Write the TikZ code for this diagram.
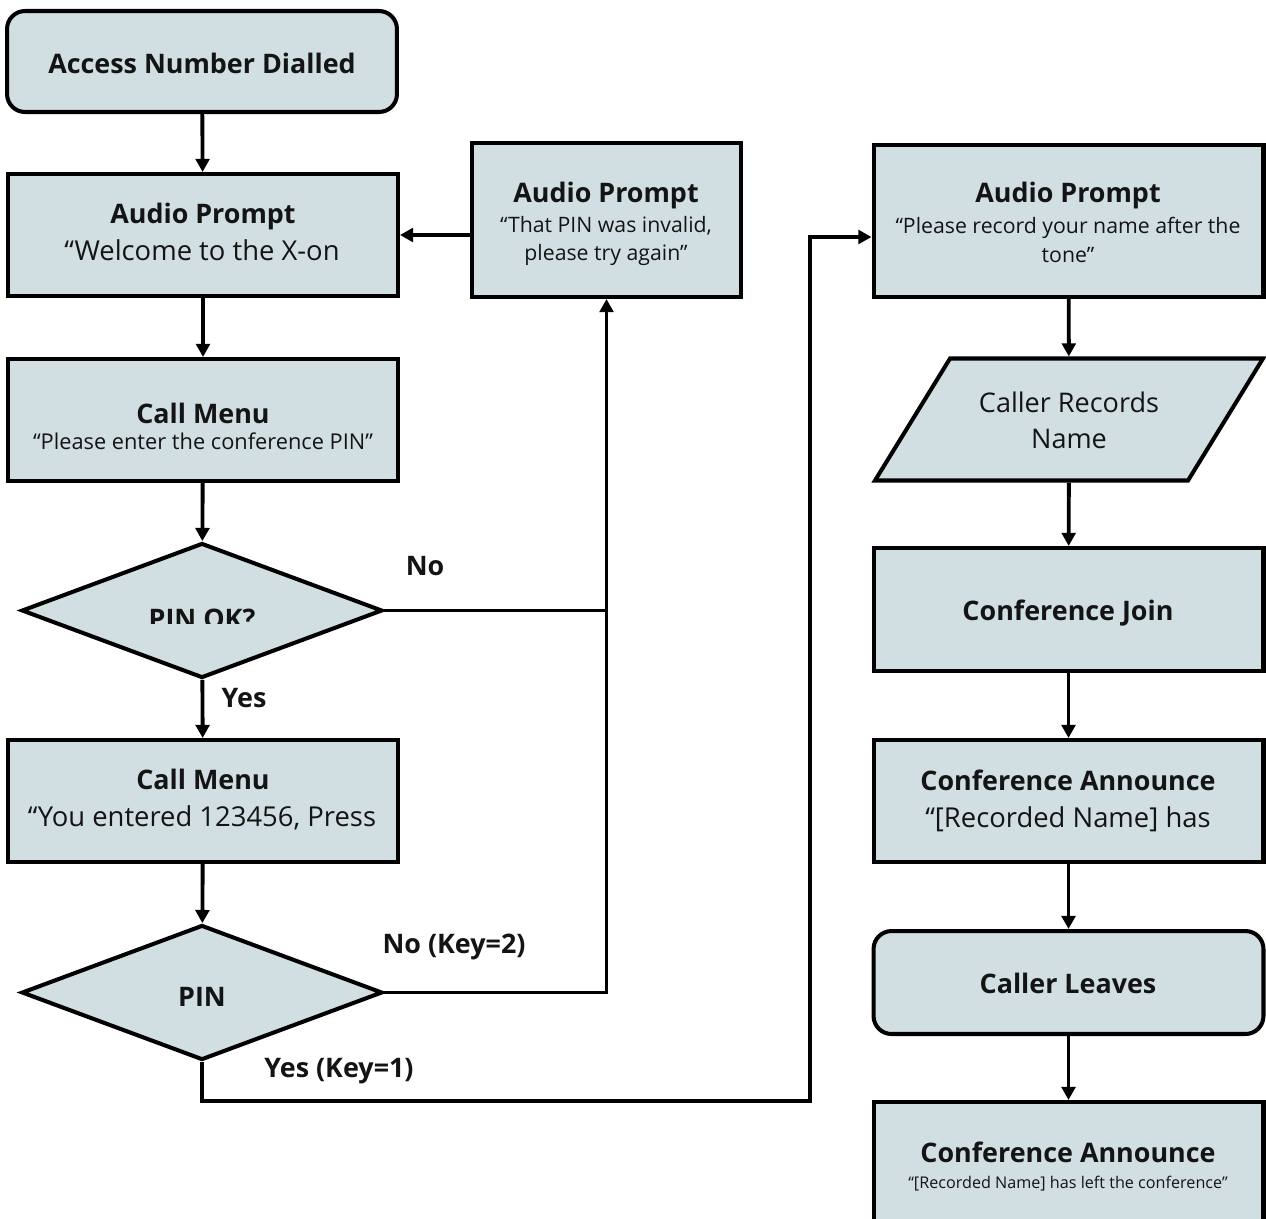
\documentclass[tikz,border=0pt]{standalone}
\usepackage{fontspec}
\setmainfont{Open Sans}
\usetikzlibrary{arrows.meta,shapes.geometric}
\definecolor{boxfill}{HTML}{D1DFE3}
\definecolor{txt}{HTML}{141414}
\begin{document}
\begin{tikzpicture}[x=0.02cm,y=-0.02cm,line width=2.3pt,
  box/.style={draw=black,fill=boxfill,rectangle,minimum width=7.8cm,minimum height=2.44cm,inner sep=0pt},
  rbox/.style={box,rounded corners=0.36cm,minimum height=2.02cm},
  dia/.style={draw=black,fill=boxfill,diamond,minimum width=7.22cm,minimum height=2.7cm,inner sep=0pt,aspect=2.67},
  tt/.style={inner sep=0pt,anchor=base,text=txt},
  tbold/.style={tt,font=\fontsize{15.3}{18}\selectfont\bfseries},
  tbig/.style={tt,font=\fontsize{15.6}{19}\selectfont},
  tmid/.style={tt,font=\fontsize{12.1}{15}\selectfont},
  tsmall/.style={tt,font=\fontsize{12.4}{15}\selectfont},
  tx/.style={tt,font=\fontsize{9.2}{11}\selectfont},
  arr/.style={-{Triangle[length=7.5pt,width=7.8pt]},line width=2.2pt},
  ln/.style={line width=2.2pt}]
\clip (0,0) rectangle (1266,1218);
\fill[white] (0,0) rectangle (1266,1218);
% left column
\node[rbox] (acc) at (202,61.5) {};
\node[tbold] (acct) at (202,73) {Access Number Dialled};
\node[box] (ap1) at (203,235) {};
\node[tbold] (ap1t) at (203,223) {Audio Prompt};
\node[tbig] (ap1s) at (202,260) {“Welcome to the X-on};
\node[box] (cm1) at (203,420) {};
\node[tbold] (cm1t) at (203,423) {Call Menu};
\node[tsmall] (cm1s) at (203,449) {“Please enter the conference PIN”};
\node[dia] (okd) at (202,610.5) {};
\begin{scope}
\clip (100,590) rectangle (300,623);
\node[tbold] (okt) at (202,628) {PIN OK?};
\end{scope}
\node[box] (cm2) at (203,801) {};
\node[tbold] (cm2t) at (203,789) {Call Menu};
\node[tbig] (cm2s) at (202,826) {“You entered 123456, Press};
\node[dia] (pind) at (202,992.5) {};
\node[tbold] (pint) at (202,1006) {PIN};
% middle
\node[box,minimum width=5.38cm,minimum height=3.08cm] (inv) at (606.5,220) {};
\node[tbold] (invt) at (606,202) {Audio Prompt};
\node[tmid] (invs1) at (606,232) {“That PIN was invalid,};
\node[tmid] (invs2) at (606,260) {please try again”};
% right column
\node[box,minimum height=3.04cm] (ap3) at (1068.5,221) {};
\node[tbold] (ap3t) at (1068,202) {Audio Prompt};
\node[tmid] (ap3s1) at (1068,233) {“Please record your name after the};
\node[tmid] (ap3s2) at (1068,262) {tone”};
\fill[boxfill,draw=black] (950,358.5) -- (1263,358.5) -- (1188,480.5) -- (875,480.5) -- cycle;
\node[inner sep=0pt,minimum width=7.76cm,minimum height=2.44cm] (rec) at (1069,419.5) {};
\node[tbig,font=\fontsize{15.4}{19}\selectfont] (rect1) at (1069,412) {Caller Records};
\node[tbig,font=\fontsize{15.4}{19}\selectfont] (rect2) at (1069,448) {Name};
\node[box,minimum height=2.46cm] (cj) at (1068.5,609.5) {};
\node[tbold] (cjt) at (1068,620) {Conference Join};
\node[box] (ca1) at (1068.5,801) {};
\node[tbold] (ca1t) at (1068,790) {Conference Announce};
\node[tbig] (ca1s) at (1068,827) {“[Recorded Name] has};
\node[rbox,minimum height=2.06cm] (cl) at (1068.5,982.5) {};
\node[tbold] (clt) at (1068,993) {Caller Leaves};
\node[box,minimum height=2.48cm] (ca2) at (1068.5,1164) {};
\node[tbold] (ca2t) at (1068,1162) {Conference Announce};
\node[tx] (ca2s) at (1068,1188) {“[Recorded Name] has left the conference”};
% labels
\node[tbold] (lno) at (425,575) {No};
\node[tbold] (lyes) at (244,707) {Yes};
\node[tbold] (lno2) at (454,953) {No (Key=2)};
\node[tbold] (lyes2) at (339,1077) {Yes (Key=1)};
% coordinates
\coordinate (j1) at (810,1101);
\coordinate (ap3in) at ([yshift=-0.32cm]ap3.west);
% connectors
\draw[arr] (acc) -- (ap1);
\draw[arr] (ap1) -- (cm1);
\draw[arr] (cm1) -- (okd);
\draw[arr] (okd) -- (cm2);
\draw[arr] (cm2) -- (pind);
\draw[arr] (okd.east) -- (okd.east -| inv.south) -- (inv.south);
\draw[ln] (pind.east) -- (pind.east -| inv.south) -- (okd.east -| inv.south);
\draw[arr] (inv.west |- ap1.east) -- (ap1.east);
\draw[arr] (pind.south) |- (j1) -- (j1 |- ap3in) -- (ap3in);
\draw[arr] (ap3) -- (rec);
\draw[arr] (rec) -- (cj);
\draw[arr] (cj) -- (ca1);
\draw[arr] (ca1) -- (cl);
\draw[arr] (cl) -- (ca2);
\end{tikzpicture}
\end{document}
